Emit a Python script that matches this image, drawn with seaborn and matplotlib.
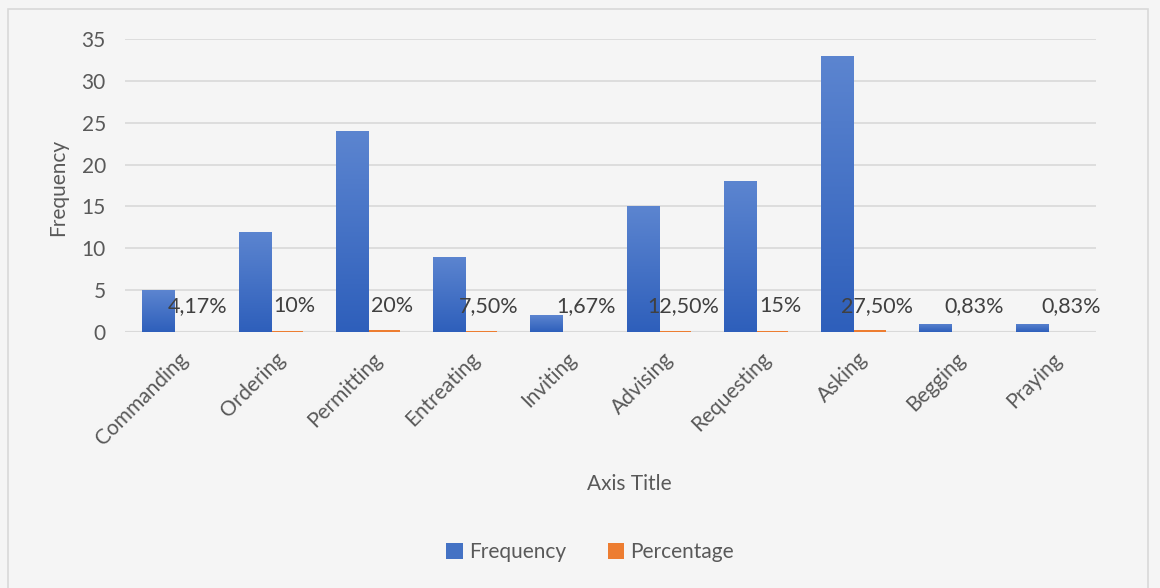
import matplotlib.pyplot as plt
import matplotlib.patches as mpatches
import matplotlib.transforms as mtransforms
from matplotlib.colors import LinearSegmentedColormap
import numpy as np
import pandas as pd
import seaborn as sns

categories = ["Commanding", "Ordering", "Permitting", "Entreating", "Inviting",
              "Advising", "Requesting", "Asking", "Begging", "Praying"]
frequency = [5, 12, 24, 9, 2, 15, 18, 33, 1, 1]
percentage = [0.0417, 0.10, 0.20, 0.075, 0.0167, 0.125, 0.15, 0.275, 0.0083, 0.0083]
pct_labels = ["4,17%", "10%", "20%", "7,50%", "1,67%",
              "12,50%", "15%", "27,50%", "0,83%", "0,83%"]
y_ticks = [0, 5, 10, 15, 20, 25, 30, 35]

sns.set_theme(style="white")
plt.rcParams["font.family"] = ["Lato", "DejaVu Sans"]

TEXT = "#595959"
GRID = "#d9d9d9"
BG = "#f5f5f5"
palette = {"Frequency": "#4472C4", "Percentage": "#ED7D31"}

df = pd.DataFrame({
    "category": categories * 2,
    "series": ["Frequency"] * len(categories) + ["Percentage"] * len(categories),
    "value": frequency + percentage,
})

fig = plt.figure(figsize=(11.6, 5.88), dpi=100, facecolor=BG)
ax = fig.add_axes([0.108, 0.4354, 0.837, 0.4983])
ax.set_facecolor(BG)

sns.barplot(data=df, x="category", y="value", hue="series",
            hue_order=["Frequency", "Percentage"], palette=palette,
            width=0.66, gap=0, saturation=1, linewidth=0, ax=ax, zorder=3)

# Excel-like vertical gradient on the blue bars
grad = np.linspace(0, 1, 256).reshape(-1, 1)
cmap = LinearSegmentedColormap.from_list("bluegrad", ["#2E5FBB", "#5C85D0"])
for bar in ax.containers[0]:
    x0, y0 = bar.get_x(), bar.get_y()
    w, h = bar.get_width(), bar.get_height()
    im = ax.imshow(grad, cmap=cmap, aspect="auto", origin="lower",
                   extent=[x0, x0 + w, y0, y0 + h], zorder=4)
    im.set_clip_path(bar)

# percentage labels
for bar, lab in zip(ax.containers[1], pct_labels):
    ax.text(bar.get_x() + bar.get_width() / 2 + 0.08, 3.1, lab,
            ha="center", va="center", fontsize=15.5, color="#404040", zorder=6)

ax.set_xlim(-0.5, len(categories) - 0.5)
ax.set_ylim(0, 35)
ax.set_yticks(y_ticks)
ax.grid(axis="y", color=GRID, linewidth=1.2, zorder=0)
ax.set_axisbelow(True)
for s in ax.spines.values():
    s.set_visible(False)
ax.axhline(0, color=GRID, linewidth=1.5, zorder=1)
ax.tick_params(axis="both", length=0, labelsize=15, labelcolor=TEXT)
ax.tick_params(axis="y", pad=14)

offset = mtransforms.ScaledTranslation(0.04, -0.12, fig.dpi_scale_trans)
for t in ax.get_xticklabels():
    t.set_rotation(45)
    t.set_ha("right")
    t.set_rotation_mode("anchor")
    t.set_transform(t.get_transform() + offset)

ax.set_xlabel("")
ax.set_ylabel("")
fig.text(629 / 1160, 1 - 484 / 588, "Axis Title", ha="center", va="center",
         fontsize=15, color=TEXT)
fig.text(58 / 1160, 1 - 187 / 588, "Frequency", ha="center", va="center",
         rotation=90, fontsize=15, color=TEXT)

handles, labels = ax.get_legend_handles_labels()
ax.get_legend().remove()
fig.legend(handles, labels, loc="center", bbox_to_anchor=(590 / 1160, 1 - 552 / 588),
           ncol=2, frameon=False, fontsize=15, labelcolor=TEXT,
           handlelength=0.8, handleheight=0.8, handletextpad=0.3, columnspacing=2.0)

fig.patches.append(mpatches.Rectangle((8 / 1160, -0.01), 1140 / 1160, 1 - 9 / 588 + 0.01,
                                      transform=fig.transFigure, fill=False,
                                      edgecolor=GRID, linewidth=1.2))

fig.savefig("out.png", dpi=100, facecolor=BG)
